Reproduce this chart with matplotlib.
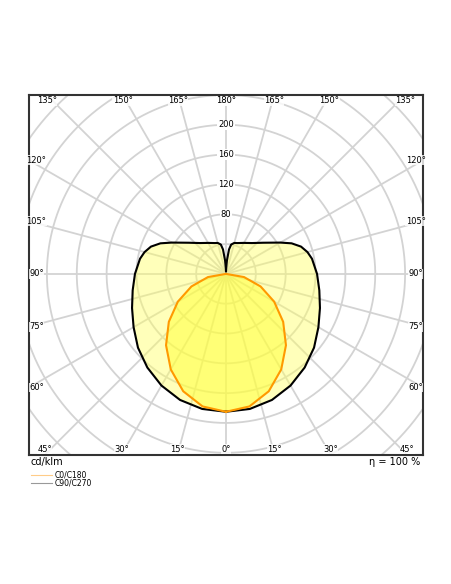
import numpy as np
import matplotlib.pyplot as plt

# luminous intensity (cd/klm), angle measured from nadir
ang_c0 = [0, 10, 20, 30, 40, 50, 60, 70, 80, 90]
c0 = [185, 180.6, 167.6, 148, 125, 100, 74.5, 49.3, 24.5, 0]

ang_c90 = [0, 10, 20, 30, 40, 50, 60, 70, 80, 90, 100, 105, 110, 115, 120,
           130, 140, 150, 160, 165, 170, 173, 176, 178, 180]
c90 = [185, 184, 180, 173, 164, 154, 143, 134, 127, 122, 117, 113, 107, 97, 84,
       65, 54, 48, 44, 43, 40, 33, 18, 8, 3]

ring_labels = [80, 120, 160, 200]
efficiency = 100


def to_xy(angles, vals):
    a = np.radians(np.concatenate([angles, 360 - np.array(angles[::-1])]))
    r = np.concatenate([vals, vals[::-1]])
    return r * np.sin(a), -r * np.cos(a)


fig = plt.figure(figsize=(4.52, 5.84), dpi=100)
ax = fig.add_axes([29 / 452, 129 / 584, 394 / 452, 360 / 584])
xmax, ymin, ymax = 264, -243, 240
ax.set_xlim(-xmax, xmax)
ax.set_ylim(ymin, ymax)
ax.set_aspect('auto')
ax.set_xticks([])
ax.set_yticks([])
for s in ax.spines.values():
    s.set_linewidth(1.5)
    s.set_color('#333333')

# grid
t = np.linspace(0, 2 * np.pi, 400)
for r in range(40, 440, 40):
    ax.plot(r * np.cos(t), r * np.sin(t), color='#d3d3d3', lw=1.3, zorder=1)
for a in range(0, 360, 15):
    ar = np.radians(a)
    ax.plot([0, 500 * np.sin(ar)], [0, -500 * np.cos(ar)], color='#d3d3d3', lw=1.3, zorder=1)

# curves
x9, y9 = to_xy(ang_c90, c90)
x0, y0 = to_xy(ang_c0, c0)
ax.fill(x9, y9, color='#ffff66', alpha=0.45, lw=0, zorder=2)
ax.fill(x0, y0, color='#ffff33', alpha=0.5, lw=0, zorder=3)
ax.plot(x9, y9, color='black', lw=1.5, zorder=4)
ax.plot(x0, y0, color='#ff9900', lw=1.5, zorder=5)

# ring labels
for r in ring_labels:
    ax.text(0, r, str(r), fontsize=6, ha='center', va='center', zorder=6,
            bbox=dict(fc='white', ec='none', pad=0.5))

# angle labels along the frame
fs = 6
for a in range(-180, 181, 15):
    lab = '%d°' % abs(a)
    ar = np.radians(a)
    dx, dy = np.sin(ar), -np.cos(ar)
    # intersection with box
    cand = []
    if dx != 0:
        cand.append(abs(xmax / dx))
    if dy > 0:
        cand.append(ymax / dy)
    elif dy < 0:
        cand.append(ymin / dy)
    k = min(cand)
    px, py = k * dx, k * dy
    if abs(abs(px) - xmax) < 1e-6:
        px = np.sign(px) * (xmax - 10)
        ha = 'center'
    else:
        py = py - np.sign(py) * 8
        ha = 'center'
    if abs(py) > ymax + 5:
        continue
    ax.text(px, py, lab, fontsize=fs, ha=ha, va='center', zorder=6,
            bbox=dict(fc='white', ec='none', pad=0.3, alpha=0.8))

fig.text(31 / 452, 1 - 462 / 584, 'cd/klm', fontsize=7, va='center')
fig.text(420 / 452, 1 - 462 / 584, 'η = %d %%' % efficiency, fontsize=7, va='center', ha='right')
fig.add_artist(plt.Line2D([31 / 452, 52 / 452], [1 - 475 / 584] * 2, color='#ffcc88', lw=0.8))
fig.add_artist(plt.Line2D([31 / 452, 52 / 452], [1 - 483 / 584] * 2, color='#999999', lw=0.8))
fig.text(55 / 452, 1 - 475 / 584, 'C0/C180', fontsize=5.5, va='center')
fig.text(55 / 452, 1 - 483 / 584, 'C90/C270', fontsize=5.5, va='center')

fig.savefig('out.png', dpi=100)
